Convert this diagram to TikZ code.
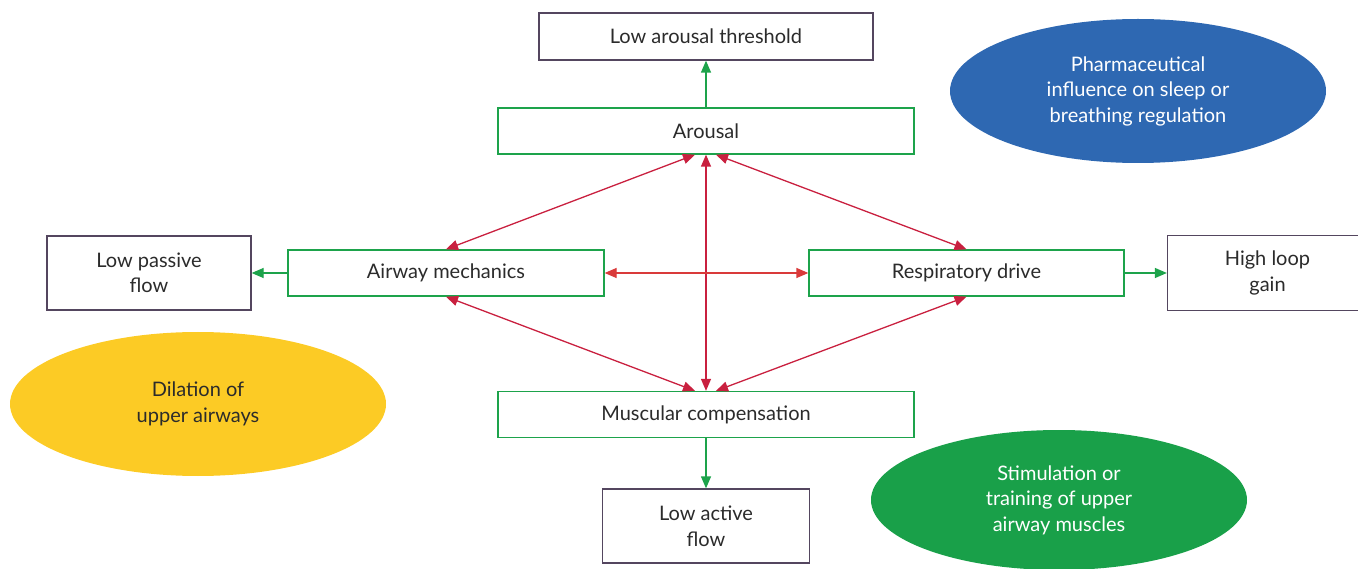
\documentclass[tikz,border=0pt]{standalone}
\usepackage{fontspec}
\setmainfont{Lato}
\usetikzlibrary{arrows.meta,positioning,shapes.geometric}
\definecolor{boxgreen}{HTML}{1DA34B}
\definecolor{boxpurple}{HTML}{54465F}
\definecolor{linkred}{HTML}{C9203F}
\definecolor{midred}{HTML}{D93A3A}
\definecolor{txtgray}{HTML}{2B2B2B}
\definecolor{blobblue}{HTML}{2E68B2}
\definecolor{blobyellow}{HTML}{FCCB25}
\definecolor{blobgreen}{HTML}{19A049}

\begin{document}
\begin{tikzpicture}[x=1pt,y=-1pt,>={Triangle[length=12pt,width=10pt]},line width=1.3pt,
  main node/.style={draw=boxgreen,fill=white,minimum width=416pt,minimum height=46pt,text=txtgray,font=\fontsize{20}{25.5}\selectfont},
  side node/.style={main node,minimum width=316pt},
  end node/.style={draw=boxpurple,fill=white,minimum width=204pt,minimum height=74pt,align=center,text=txtgray,font=\fontsize{20}{25.5}\selectfont},
  blob/.style={ellipse,minimum width=376pt,minimum height=144pt,align=center,text=white,font=\fontsize{20}{25.5}\selectfont}]

            \useasboundingbox (0,0) rectangle (1358,569);

            % ellipses
            \node[blob,fill=blobblue] (pharma) at (1138,91) {Pharmaceutical\\influence on sleep or\\breathing regulation};
            \node[blob,fill=blobyellow,text=txtgray] (dilation) at (198,404) {Dilation of\\upper airways};
            \node[blob,fill=blobgreen,minimum height=140pt] (stim) at (1059,500) {Stimulation or\\training of upper\\airway muscles};

            % middle boxes
            \node[main node] (arousal) at (706,131) {Arousal};
            \node[main node] (muscular) [below of = arousal, node distance=283.5pt] {Muscular compensation};
            \node[side node] (airway) at (446,273) {Airway mechanics};
            \node[side node, minimum width=315pt] (drive) at (966.5,273) {Respiratory drive};

            % outcomes
            \node[end node, minimum width=334pt, minimum height=47pt] (threshold) [above of = arousal, node distance=94.5pt] {Low arousal threshold};
            \node[end node] (passive) [left of = airway, node distance=297pt] {Low passive\\flow};
            \node[end node, minimum width=200pt, minimum height=75pt] (loop) [right of = drive, node distance=301pt] {High loop\\gain};
            \node[end node, minimum width=207pt] (active) [below of = muscular, node distance=111.5pt] {Low active\\flow};

            \draw[->, boxgreen] (arousal) to (threshold);
            \draw[->, boxgreen] (airway) to (passive);
            \draw[->, boxgreen] (drive) to (loop);
            \draw[->, boxgreen] (muscular) to (active);

            \draw[<->, linkred] ([xshift=-11pt]arousal.south) to (airway.north);
            \draw[<->, linkred] ([xshift=10pt]arousal.south) to (drive.north);
            \draw[<->, linkred] (arousal) to (muscular);
            \draw[<->, linkred] (airway.south) to ([xshift=-11pt]muscular.north);
            \draw[<->, linkred] (drive.south) to ([xshift=10pt]muscular.north);
            \draw[<->, midred] (airway) to (drive);

            ;
        \end{tikzpicture}
\end{document}
